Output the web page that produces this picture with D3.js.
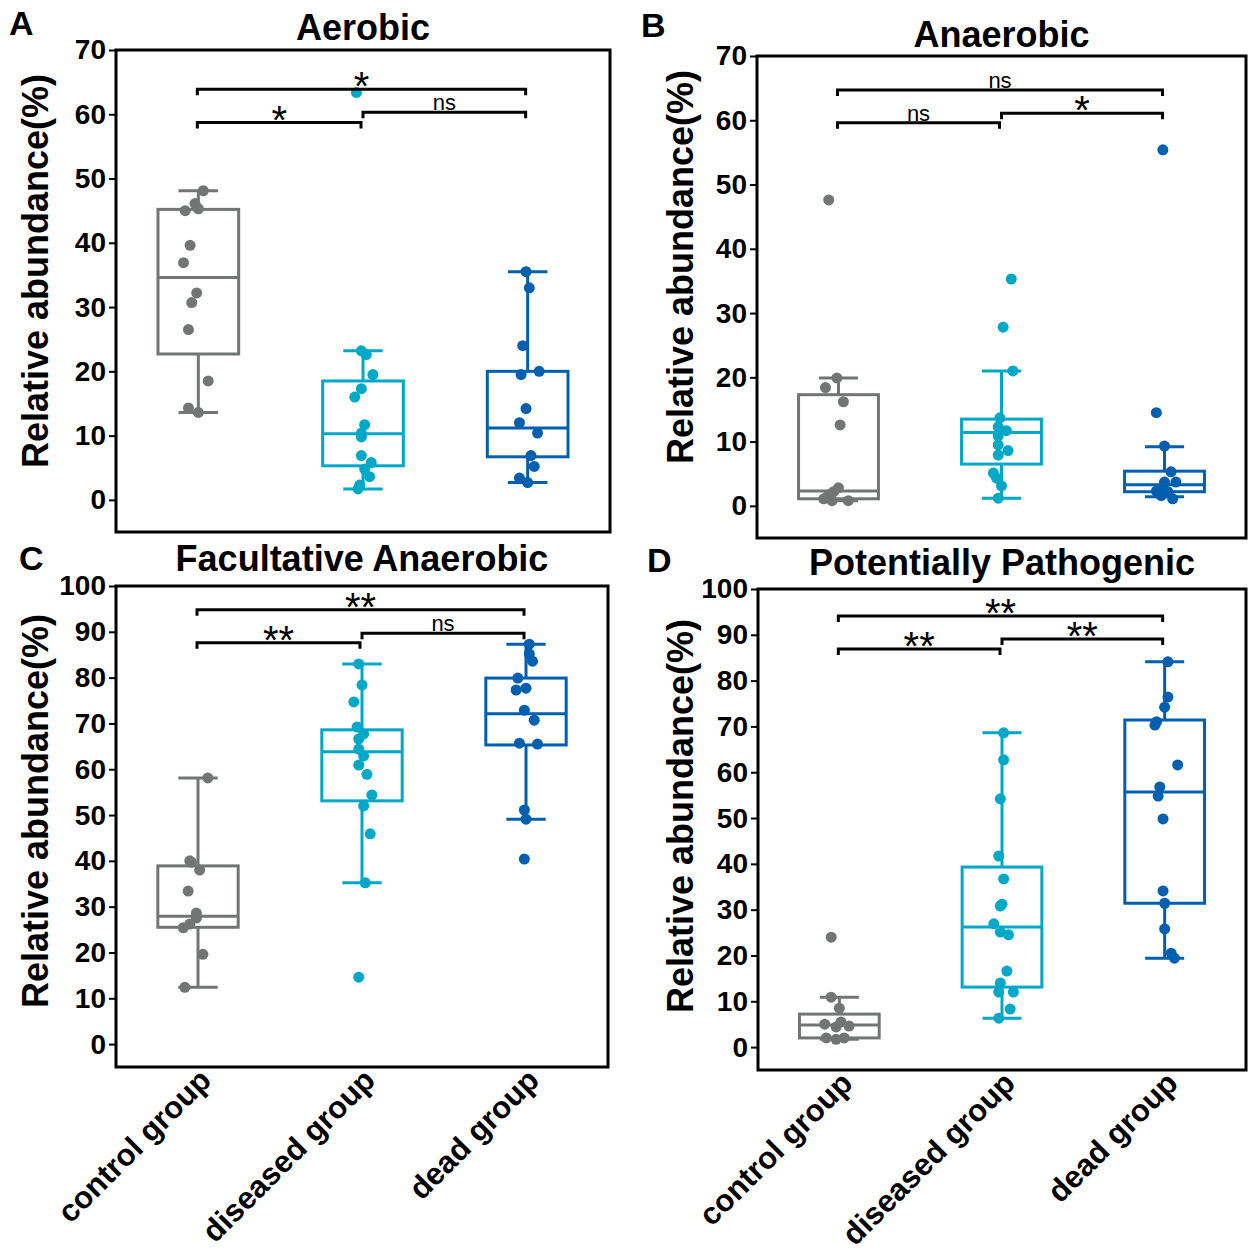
<!DOCTYPE html>
<html>
<head>
<meta charset="utf-8">
<script src="https://cdn.jsdelivr.net/npm/d3@7"></script>
<style>
  body { margin: 0; background: #fff; }
  text { font-family: "Liberation Sans", Arial, Helvetica, sans-serif; }
</style>
</head>
<body>
<svg id="fig" width="1248" height="1252"></svg>
<script>
// groups on the x axis
const groups = ["control group", "diseased group", "dead group"];

// points: [value %, horizontal jitter as a fraction of the group step]
const aerobicPts = [
  [[48.1,0.03],[46.1,-0.02],[45.3,0],[45.0,-0.08],[39.6,-0.05],[36.9,-0.09],[32.2,-0.01],[30.7,-0.04],[26.5,-0.06],[18.5,0.06],[14.3,-0.06],[13.6,0]],
  [[63.4,-0.04],[23.2,-0.01],[22.6,0.02],[19.5,0.06],[17.3,-0.01],[16.0,-0.05],[11.7,0.01],[10.4,-0.01],[9.8,-0.01],[6.9,-0.01],[5.8,0.05],[4.8,0.01],[3.6,0.04],[2.3,-0.02],[1.7,-0.03]],
  [[35.5,-0.01],[33.0,0.01],[24.0,-0.03],[19.5,-0.04],[20.0,0.07],[14.2,-0.01],[12.0,-0.05],[10.4,0.06],[6.9,0.02],[5.2,0.04],[3.4,-0.05],[2.7,0]]
];
const anaerobicPts = [
  [[47.6,-0.06],[19.9,-0.01],[18.4,-0.08],[16.2,0.03],[12.6,0.01],[2.8,0],[2.2,-0.03],[1.7,-0.06],[1.1,-0.09],[0.8,-0.04],[0.8,0.06]],
  [[35.3,0.06],[27.8,0.01],[21.0,0.07],[13.7,-0.01],[12.3,-0.02],[11.7,0.03],[10.9,-0.02],[9.5,-0.02],[8.6,0.04],[7.9,-0.02],[5.1,-0.05],[4.3,-0.03],[3.1,0],[1.2,-0.02]],
  [[55.4,-0.01],[14.5,-0.05],[9.3,0],[5.3,0.04],[3.7,0],[3.7,0.07],[2.8,-0.01],[2.3,-0.05],[2.2,0.02],[1.6,-0.02],[1.1,0.05]]
];
const facultativePts = [
  [[58.1,0.06],[40.0,-0.05],[39.7,-0.04],[38.0,0.01],[33.4,-0.06],[28.6,-0.01],[27.5,-0.01],[26.2,-0.05],[25.4,-0.09],[19.6,0.03],[12.4,-0.08]],
  [[83.0,-0.02],[78.4,0],[74.7,-0.05],[69.2,-0.03],[67.7,0.01],[66.6,-0.02],[64.4,-0.02],[62.9,0.01],[60.9,-0.02],[58.9,0.03],[54.4,0.06],[52.0,0.01],[45.9,0.05],[35.2,0.02],[14.6,-0.02]],
  [[87.3,0.02],[85.2,0.02],[83.6,0.04],[79.9,-0.05],[77.3,-0.06],[77.7,0],[72.9,-0.01],[70.7,0.05],[65.7,-0.04],[65.5,0.07],[51.1,-0.01],[49.1,0],[40.4,-0.01]]
];
const pathogenicPts = [
  [[24.0,-0.05],[10.9,-0.05],[8.5,0],[5.5,0.01],[5.0,-0.09],[4.6,0.06],[4.4,-0.02],[2.0,-0.08],[1.7,-0.02],[2.0,0.03]],
  [[68.6,0.01],[62.7,0.01],[54.2,-0.01],[41.7,-0.02],[36.7,0.01],[31.2,0],[30.8,-0.01],[26.9,-0.05],[25.1,-0.01],[24.5,0.04],[16.6,0.03],[14.0,-0.01],[12.0,-0.02],[12.0,0.07],[8.3,0.05],[6.3,-0.02]],
  [[84.1,0.02],[76.4,0.02],[74.2,0],[71.0,-0.05],[70.3,-0.06],[61.6,0.08],[56.8,-0.03],[54.8,-0.04],[49.8,-0.01],[34.1,-0.01],[31.4,0],[25.8,0],[20.5,0.04],[19.4,0.06]]
];

// box stats per group: [lower whisker, Q1, median, Q3, upper whisker]
const aerobicBox = [[13.6,22.7,34.6,45.2,48.1],[1.7,5.3,10.3,18.5,23.2],[2.7,6.7,11.2,20.0,35.5]];
const anaerobicBox = [[0.8,1.1,2.3,17.3,19.9],[1.2,6.5,11.4,13.5,21.0],[1.4,2.2,3.3,5.4,9.2]];
const facultativeBox = [[12.4,25.5,27.9,38.9,58.1],[35.2,53.1,63.8,68.6,83.0],[49.1,65.3,72.1,79.9,87.3]];
const pathogenicBox = [[1.7,2.0,4.8,7.2,10.9],[6.3,13.1,26.2,39.3,68.6],[19.4,31.4,55.7,71.4,84.1]];

// significance brackets: [from group, to group, height %, label]
const aerobicSig = [[0,2,63.9,"*"],[0,1,58.7,"*"],[1,2,60.3,"ns"]];
const anaerobicSig = [[0,2,64.7,"ns"],[0,1,59.6,"ns"],[1,2,61.1,"*"]];
const facultativeSig = [[0,2,94.8,"**"],[0,1,87.6,"**"],[1,2,89.7,"ns"]];
const pathogenicSig = [[0,2,94.1,"**"],[0,1,86.9,"**"],[1,2,89.1,"**"]];

const ticks70 = [0,10,20,30,40,50,60,70];
const ticks100 = [0,10,20,30,40,50,60,70,80,90,100];

const colors = ["#737575", "#00a8c8", "#005fae"];

const panels = [
  {letter:"A", title:"Aerobic", pts:aerobicPts, box:aerobicBox, sig:aerobicSig, ticks:ticks70,
   x0:116, x1:610, y0:50, y1:532, titleY:40, letterX:9, letterY:35, labelX:35, labelY:271, showX:false},
  {letter:"B", title:"Anaerobic", pts:anaerobicPts, box:anaerobicBox, sig:anaerobicSig, ticks:ticks70,
   x0:757, x1:1246, y0:56, y1:538, titleY:47, letterX:641, letterY:37, labelX:680, labelY:267, showX:false},
  {letter:"C", title:"Facultative Anaerobic", pts:facultativePts, box:facultativeBox, sig:facultativeSig, ticks:ticks100,
   x0:116, x1:608, y0:586, y1:1067, titleY:571, letterX:19, letterY:570, labelX:35, labelY:811, showX:true},
  {letter:"D", title:"Potentially Pathogenic", pts:pathogenicPts, box:pathogenicBox, sig:pathogenicSig, ticks:ticks100,
   x0:758, x1:1246, y0:589, y1:1070, titleY:575, letterX:647, letterY:572, labelX:680, labelY:816, showX:true}
];

const svg = d3.select("#fig");

function drawPanel(p) {
  const g = svg.append("g");
  const top = d3.max(p.ticks);

  const x = d3.scalePoint().domain(groups).range([p.x0, p.x1]).padding(0.5);
  const y = d3.scaleLinear().domain([-5, top]).range([p.y1, p.y0]);
  const step = x.step();
  const boxW = step * 0.49;
  const capW = step * 0.24;

  // frame
  g.append("rect")
    .attr("x", p.x0).attr("y", p.y0)
    .attr("width", p.x1 - p.x0).attr("height", p.y1 - p.y0)
    .attr("fill", "none").attr("stroke", "#000").attr("stroke-width", 3);

  // y axis
  const yAxis = d3.axisLeft(y).tickValues(p.ticks).tickSize(7).tickPadding(3);
  const ax = g.append("g").attr("transform", `translate(${p.x0},0)`).call(yAxis);
  ax.select(".domain").remove();
  ax.selectAll(".tick line").attr("stroke", "#000").attr("stroke-width", 2);
  ax.selectAll(".tick text")
    .attr("fill", "#000")
    .style("font-size", "28px").style("font-weight", "bold");

  // y label
  g.append("text")
    .attr("transform", `translate(${p.labelX},${p.labelY}) rotate(-90)`)
    .attr("text-anchor", "middle").attr("dy", "0.36em")
    .style("font-size", "36px").style("font-weight", "bold")
    .text("Relative abundance(%)");

  // title and letter
  g.append("text")
    .attr("x", (p.x0 + p.x1) / 2).attr("y", p.titleY)
    .attr("text-anchor", "middle")
    .style("font-size", "36px").style("font-weight", "bold")
    .text(p.title);
  g.append("text")
    .attr("x", p.letterX).attr("y", p.letterY)
    .style("font-size", "34px").style("font-weight", "bold")
    .text(p.letter);

  // boxes
  const boxes = g.selectAll(".box").data(p.box).enter().append("g")
    .attr("stroke", (d, i) => colors[i]).attr("stroke-width", 3).attr("fill", "none");
  boxes.append("path")
    .attr("d", (d, i) => {
      const cx = x(groups[i]);
      return `M${cx},${y(d[0])}V${y(d[1])}M${cx},${y(d[3])}V${y(d[4])}` +
        `M${cx - capW / 2},${y(d[0])}H${cx + capW / 2}M${cx - capW / 2},${y(d[4])}H${cx + capW / 2}`;
    });
  boxes.append("rect")
    .attr("x", (d, i) => x(groups[i]) - boxW / 2)
    .attr("y", d => y(d[3]))
    .attr("width", boxW)
    .attr("height", d => y(d[1]) - y(d[3]));
  boxes.append("line")
    .attr("x1", (d, i) => x(groups[i]) - boxW / 2)
    .attr("x2", (d, i) => x(groups[i]) + boxW / 2)
    .attr("y1", d => y(d[2])).attr("y2", d => y(d[2]));

  // points
  p.pts.forEach((arr, i) => {
    g.selectAll(null).data(arr).enter().append("circle")
      .attr("cx", d => x(groups[i]) + d[1] * step)
      .attr("cy", d => y(d[0]))
      .attr("r", 5.5)
      .attr("fill", colors[i]);
  });

  // significance brackets
  const tip = 6;
  p.sig.forEach(s => {
    const xa = x(groups[s[0]]) + (s[0] === 1 ? 0 : -1);
    const xb = x(groups[s[1]]) - 2;
    const yy = y(s[2]);
    g.append("path")
      .attr("d", `M${xa},${yy + tip}V${yy}H${xb}V${yy + tip}`)
      .attr("fill", "none").attr("stroke", "#000").attr("stroke-width", 3);
    const star = s[3] !== "ns";
    g.append("text")
      .attr("x", (xa + xb) / 2)
      .attr("y", star ? yy + 11 : yy - 2)
      .attr("text-anchor", "middle")
      .style("font-size", star ? "40px" : "22px")
      .text(s[3]);
  });

  // x labels
  if (p.showX) {
    g.selectAll(".xl").data(groups).enter().append("text")
      .attr("transform", d => `translate(${x(d) + 15},${p.y1 + 15}) rotate(-45)`)
      .attr("text-anchor", "end")
      .style("font-size", "31px").style("font-weight", "bold")
      .text(d => d);
  }
}

panels.forEach(drawPanel);
</script>
</body>
</html>
